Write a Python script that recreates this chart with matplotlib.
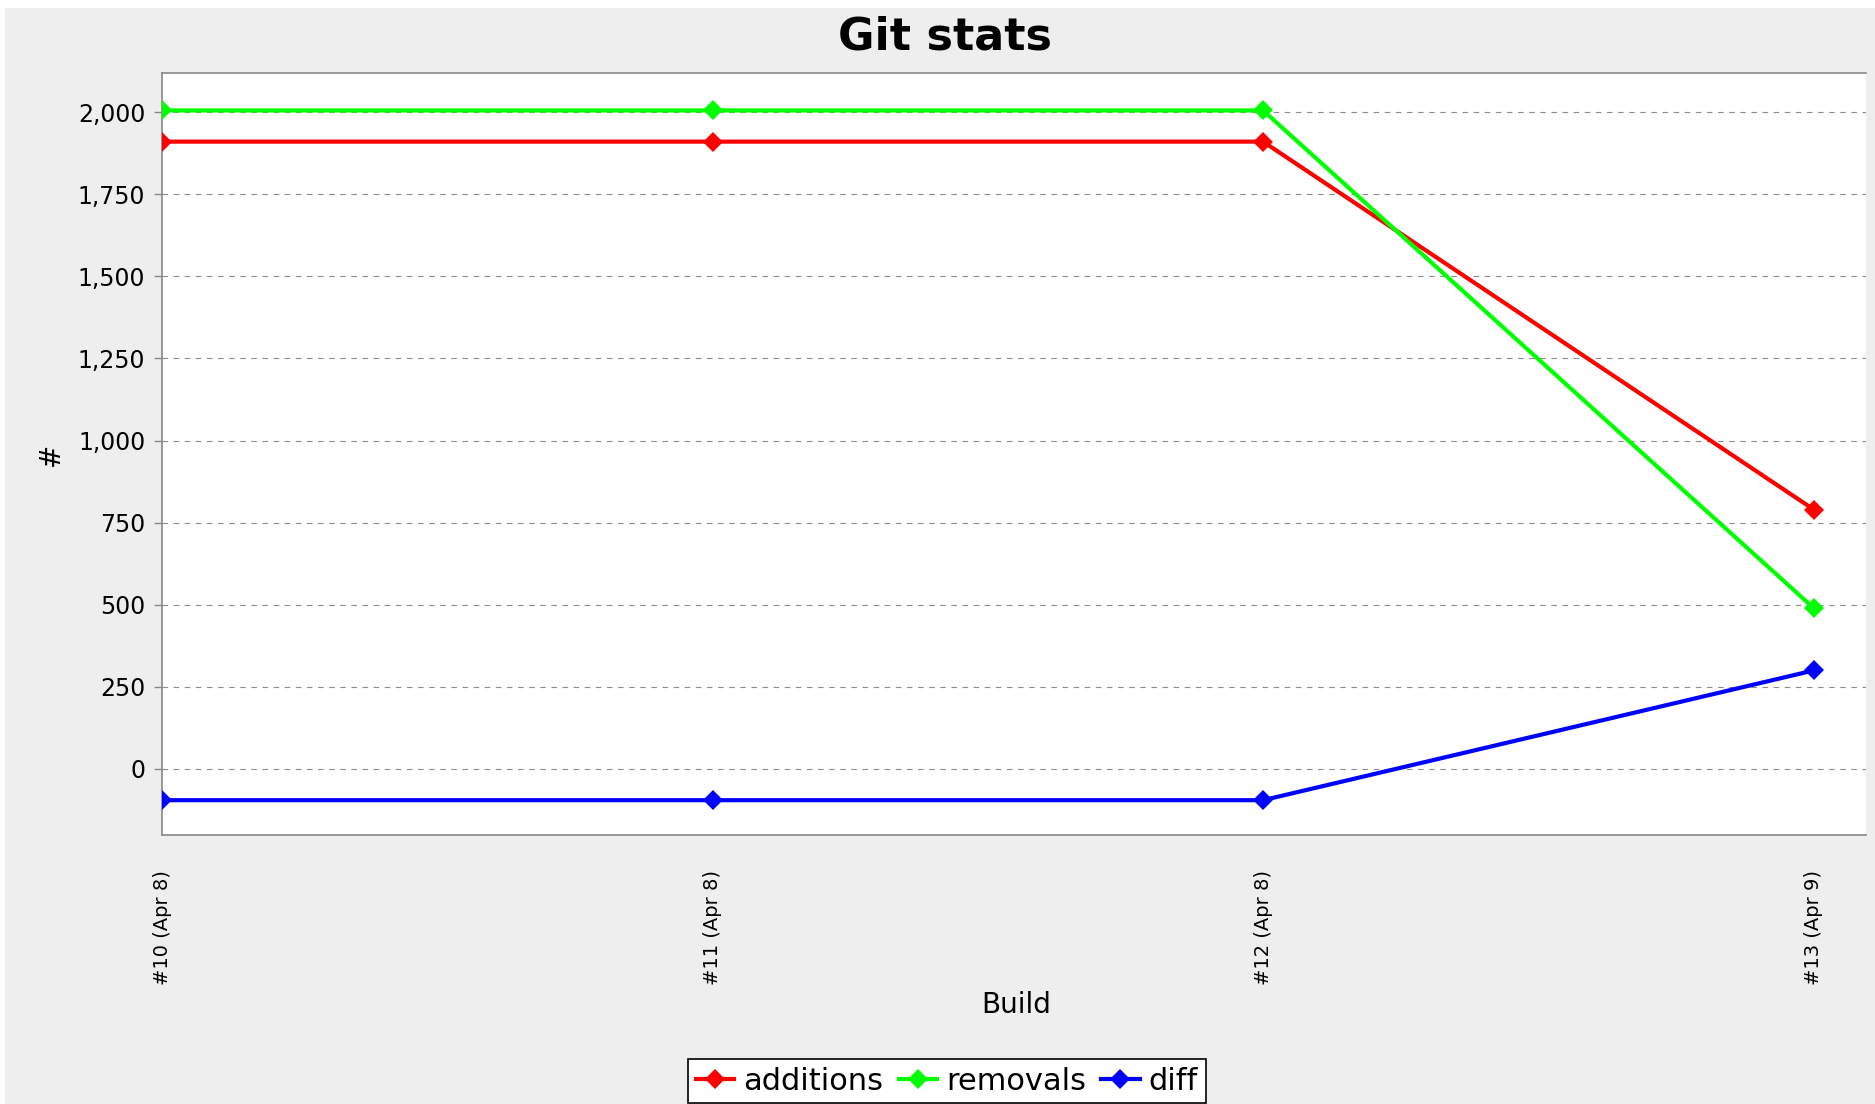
"""Git stats line chart: additions / removals / diff per build."""
import matplotlib

matplotlib.use("Agg")
import matplotlib.pyplot as plt
from matplotlib.patches import Rectangle
from matplotlib.ticker import FixedLocator, StrMethodFormatter

builds = ["#10 (Apr 8)", "#11 (Apr 8)", "#12 (Apr 8)", "#13 (Apr 9)"]
additions = [1910, 1910, 1910, 790]
removals = [2005, 2005, 2005, 490]
diff = [-95, -95, -95, 300]
y_ticks = [0, 250, 500, 750, 1000, 1250, 1500, 1750, 2000]

W, H, DPI = 1875, 1104, 100
BG = "#eeeeee"

fig = plt.figure(figsize=(W / DPI, H / DPI), dpi=DPI, facecolor="white")
# grey chart panel (leaves a thin white strip top and left, as in the screenshot)
fig.patches.append(
    Rectangle((5 / W, 0), 1 - 5 / W, 1 - 8 / H, transform=fig.transFigure,
              facecolor=BG, edgecolor="none", zorder=-10)
)

ax = fig.add_axes([162 / W, 1 - 835 / H, (1866 - 162) / W, (835 - 73) / H])
ax.set_facecolor("white")

x = range(len(builds))
series = [
    ("additions", additions, "#ff0000"),
    ("removals", removals, "#00ff00"),
    ("diff", diff, "#0000ff"),
]
for name, vals, color in series:
    ax.plot(x, vals, color=color, lw=3.0, marker="D", markersize=10.5,
            markeredgewidth=0, label=name, zorder=3)

ax.set_xlim(0, 3.095)
ax.set_ylim(-201, 2119)
ax.set_xticks(list(x))
ax.set_xticklabels(builds, rotation=90, fontsize=14)
ax.yaxis.set_major_locator(FixedLocator(y_ticks))
ax.yaxis.set_major_formatter(StrMethodFormatter("{x:,.0f}"))
ax.tick_params(axis="y", labelsize=17, length=6, width=1, color="#888888", pad=6)
ax.tick_params(axis="x", length=0, pad=25)

ax.grid(axis="y", color="#8c8c8c", lw=0.8, linestyle=(0, (5, 5)))
ax.set_axisbelow(True)
for side in ("left", "bottom", "top"):
    ax.spines[side].set_color("#888888")
    ax.spines[side].set_linewidth(1.2)
ax.spines["right"].set_visible(False)

ax.set_xlabel("Build", fontsize=20, va="center")
ax.xaxis.set_label_coords(0.501, (835 - 1005) / (835 - 73))
ax.set_ylabel("#", fontsize=20, va="center")
ax.yaxis.set_label_coords((51 - 162) / (1866 - 162), 0.5)

fig.suptitle("Git stats", x=945 / W, y=1 - 37 / H, va="center",
             fontsize=32, fontweight="bold")

leg = fig.legend(loc="upper center", bbox_to_anchor=(947 / W, 1 - 1059 / H),
                 ncol=3, fontsize=22, frameon=True, fancybox=False,
                 edgecolor="black", framealpha=1, handlelength=1.25,
                 handletextpad=0.3, columnspacing=0.5, borderpad=0.25,
                 borderaxespad=0)
leg.get_frame().set_linewidth(1.2)

fig.savefig("out.png", dpi=DPI, facecolor=fig.get_facecolor())
